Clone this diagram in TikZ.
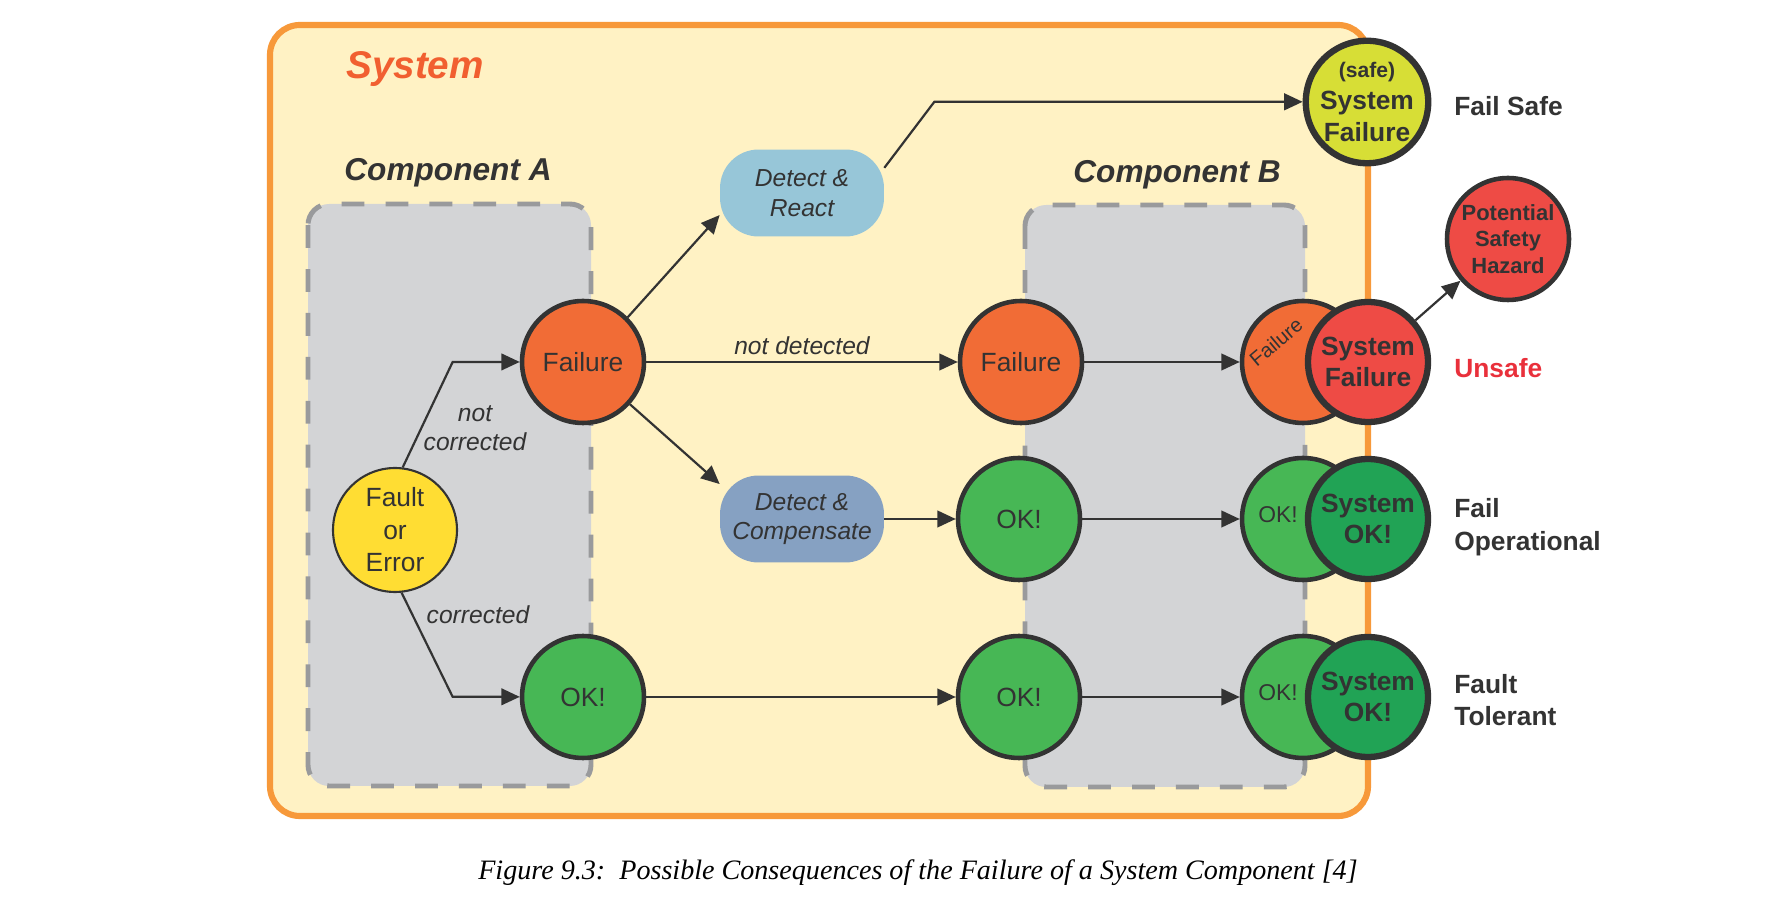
\documentclass[tikz,border=0pt]{standalone}
\usepackage{fontspec}
\setmainfont{Liberation Sans}
\newfontfamily\capfont{Liberation Serif}
\usetikzlibrary{arrows.meta}

\definecolor{txt}{HTML}{333333}
\definecolor{sysfill}{HTML}{FFF2C4}
\definecolor{sysline}{HTML}{F7993A}
\definecolor{syslbl}{HTML}{F15F30}
\definecolor{compfill}{HTML}{D3D4D6}
\definecolor{compline}{HTML}{999A9C}
\definecolor{faultc}{HTML}{FFDD33}
\definecolor{failc}{HTML}{F16C36}
\definecolor{okc}{HTML}{47B755}
\definecolor{sysok}{HTML}{21A355}
\definecolor{sysred}{HTML}{EE4B45}
\definecolor{safec}{HTML}{D7DE36}
\definecolor{reactc}{HTML}{97C6D8}
\definecolor{compc}{HTML}{86A1C2}
\definecolor{unsafec}{HTML}{E9303B}

\begin{document}
\begin{tikzpicture}[x=0.02cm,y=-0.02cm,
		>={Triangle[length=10.5pt,width=9.5pt]},
		conn/.style={->,line width=1.25pt,draw=txt},
		st/.style={circle,draw=txt,line width=2.6pt,minimum size=2.44cm,inner sep=0,text=txt,align=center,font=\fontsize{15}{18}\selectfont},
		sys/.style={st,line width=3.6pt,minimum size=2.4cm,font=\fontsize{15}{18}\selectfont\bfseries},
		act/.style={rectangle,rounded corners=22pt,minimum width=3.28cm,minimum height=1.74cm,inner sep=0,text=txt,align=center,font=\fontsize{14}{16.8}\selectfont\itshape},
		comp/.style={draw=compline,fill=compfill,line width=2.8pt,dash pattern=on 13pt off 12pt,rounded corners=12pt},
		complbl/.style={text=txt,font=\fontsize{18}{22}\selectfont\bfseries\itshape},
		elbl/.style={text=txt,align=center,font=\fontsize{14}{16.5}\selectfont\itshape},
		outcome/.style={anchor=west,inner sep=0,text=txt,align=left,font=\fontsize{15}{18.5}\selectfont\bfseries}]
	\useasboundingbox (0,0) rectangle (1776,908);
	\draw[draw=sysline,fill=sysfill,line width=3.5pt,rounded corners=17pt] (270,25) rectangle (1368,816);
	\node[text=syslbl,font=\fontsize{22}{26}\selectfont\bfseries\itshape] (sysname) at (415,69) {System};
	\draw[comp] (308,204) rectangle (591,786);
	\draw[comp] (1025,205) rectangle (1305,787);
	\node[complbl] (compA) at (448,173) {Component A};
	\node[complbl] (compB) at (1177,175) {Component B};

	\node[st,fill=faultc,line width=1.2pt,minimum size=2.48cm,font=\fontsize{15}{18.5}\selectfont] (fault) at (395,530) {Fault\\or\\Error};
	\node[st,fill=failc] (failA) at (583,362) {Failure};
	\node[st,fill=okc] (okA) at (583,697) {OK!};
	\node[act,fill=reactc] (react) at (802,193) {Detect \&\\React};
	\node[act,fill=compc] (detcomp) at (802,519) {Detect \&\\Compensate};
	\node[st,fill=failc] (failB) at (1021,362) {Failure};
	\node[st,fill=okc] (okB) at (1019,519) {OK!};
	\node[st,fill=okc] (okBb) at (1019,697) {OK!};

	\node[st,fill=failc] (failC) at (1303,362) {};
	\node[st,fill=okc] (okC) at (1303,519) {};
	\node[st,fill=okc] (okCb) at (1303,697) {};
	\node[text=txt,rotate=40,inner sep=1pt,font=\fontsize{11.5}{13}\selectfont] (failCt) at (1276,342) {Failure};
	\node[text=txt,font=\fontsize{13}{15}\selectfont] (okCt) at (1278,515) {OK!};
	\node[text=txt,font=\fontsize{13}{15}\selectfont] (okCbt) at (1278,693) {OK!};
	\node[sys,fill=sysred] (sysFail) at (1368,362) {System\\Failure};
	\node[sys,fill=sysok] (sysOk) at (1368,519) {System\\OK!};
	\node[sys,fill=sysok] (sysOkb) at (1368,697) {System\\OK!};
	\node[sys,fill=safec] (safe) at (1367,102) {{\fontsize{12}{14}\selectfont(safe)}\\System\\Failure};
	\node[st,fill=sysred,font=\fontsize{12.5}{15}\selectfont\bfseries] (hazard) at (1508,239) {Potential\\Safety\\Hazard};

	\node[outcome] (failSafe) at (1454,106) {Fail Safe};
	\node[outcome,text=unsafec] (unsafe) at (1454,368) {Unsafe};
	\node[outcome] (failOp) at (1454,527) {Fail\\Operational};
	\node[outcome] (faultTol) at (1454,700) {Fault\\Tolerant};

	\node[elbl] (notCorr) at (475,428) {not\\corrected};
	\node[elbl] (corr) at (478,615) {corrected};

	\draw[conn] (fault.83) -- ++(50,-105.5) -- (failA);
	\draw[conn] (fault.-84) -- ++(51,104) -- (okA);
	\draw[conn] (failA.45) -- (react.195);
	\draw[conn] (failA.-42) -- (detcomp.157);
	\draw[conn] (react.17) -- ++(50,-66) coordinate (bendS) -- (bendS -| safe.west);
	\draw[conn] (failA) -- node[elbl,above=0pt] {not detected} (failB);
	\draw[conn] (failB) -- (failC);
	\draw[conn] (detcomp) -- (okB);
	\draw[conn] (okB) -- (okC);
	\draw[conn] (okA) -- (okBb);
	\draw[conn] (okBb) -- (okCb);
	\draw[conn] (sysFail) -- (hazard);

	\node[font=\capfont\itshape\fontsize{16}{19}\selectfont] (caption) at (918,873) {Figure 9.3:\ \ Possible Consequences of the Failure of a System Component [4]};
\end{tikzpicture}
\end{document}
